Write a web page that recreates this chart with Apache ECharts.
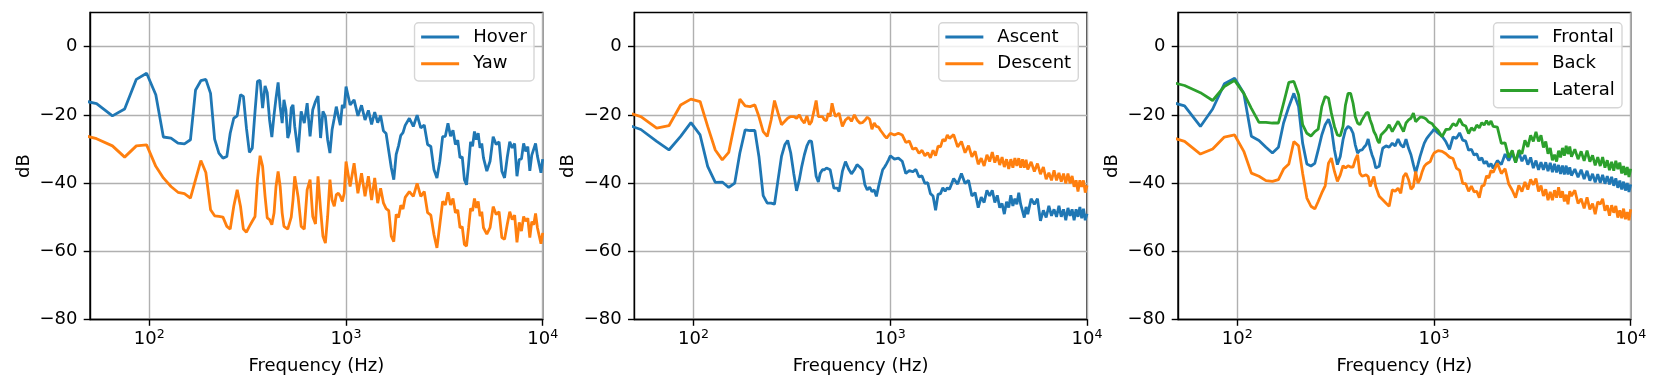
<!DOCTYPE html>
<html>
<head>
<meta charset="utf-8">
<script src="https://cdn.jsdelivr.net/npm/echarts@6/dist/echarts.min.js"></script>
<style>
  html, body { margin: 0; padding: 0; background: #fff; }
  #chart { width: 1661px; height: 391px; }
</style>
</head>
<body>
<div id="chart"></div>
<script>
/* frequency grid (Hz), shared by every curve */
var freqs = [43, 54, 65, 75, 86, 97, 108, 118, 129, 140,
  151, 162, 172, 183, 194, 205, 215, 226, 237, 248,
  258, 269, 280, 291, 301, 312, 323, 334, 345, 355,
  366, 377, 388, 398, 409, 420, 431, 441, 452, 463,
  474, 484, 495, 506, 517, 527, 538,
  549, 571, 592, 614, 635, 657, 678, 700,
  721, 743, 764, 786, 807, 829, 850, 872, 893, 915, 936, 958, 980, 1001,
  1050, 1100,
  1150, 1200, 1250, 1300, 1350, 1400, 1450, 1500, 1550, 1600, 1650, 1700, 1750, 1800, 1850, 1900, 1950, 2000,
  2100, 2200, 2300, 2400, 2500, 2600, 2700, 2800, 2900, 3000, 3100, 3200, 3300, 3400, 3500,
  3600, 3700, 3800, 3900, 4000, 4100, 4200, 4300, 4400, 4500, 4600, 4700, 4800, 4900, 5000,
  5200, 5400, 5600, 5800, 6000, 6200, 6400, 6600, 6800, 7000, 7200, 7400, 7600, 7800, 8000,
  8200, 8400, 8600, 8800, 9000, 9200, 9400, 9600, 9800, 10000];

/* panel 1 */
var hover = [-15.5, -16.7, -20.3, -18.3, -9.6, -7.8, -14.1, -26.5, -26.8, -28.3,
  -28.5, -27.3, -12.7, -10.0, -9.6, -13.7, -27.1, -31.2, -32.7, -32.2,
  -25.4, -21.0, -20.3, -14.1, -14.6, -23.9, -31.0, -29.8, -19.0, -10.2,
  -9.9, -18.0, -11.5, -13.5, -21.5, -26.5, -20.0, -15.1, -10.5, -17.6,
  -22.4, -15.6, -18.5, -26.8, -24.9, -18.0, -17.1,
  -23.4, -31.0, -19.0, -22.4, -16.6, -26.3, -18.5, -16.1,
  -14.5, -26.8, -19.0, -20.5, -27.3, -31.2, -24.4, -21.0, -17.6, -20.5, -23.0, -17.1, -18.0, -11.7,
  -17.1, -15.6,
  -20.3, -17.2, -21.5, -18.7, -22.8, -19.2, -22.3, -20.2, -24.7, -25.5, -30.6, -35.5, -39.0, -31.6, -29.1, -26.0, -25.2, -23.1,
  -21.0, -23.4, -20.1, -23.8, -23.0, -28.7, -29.3, -36.0, -38.5, -33.6, -26.4, -26.3, -22.5, -26.3, -24.5,
  -28.7, -27.4, -32.6, -32.3, -39.0, -40.5, -34.6, -27.9, -29.2, -24.9, -27.3, -25.4, -29.7, -28.4, -32.6,
  -36.5, -33.6, -26.4, -28.7, -27.9, -36.5, -38.5, -32.6, -27.9, -29.7, -28.4, -38.0, -33.1, -32.9, -28.4,
  -30.7, -29.3, -36.4, -31.8, -31.7, -28.4, -32.1, -31.8, -37.0, -33.0];
var yaw = [-25.5, -27.0, -29.1, -32.4, -29.1, -28.8, -35.1, -38.5, -41.0, -42.7,
  -43.1, -44.4, -39.0, -33.4, -36.9, -47.8, -49.6, -49.8, -50.0, -52.7,
  -53.5, -46.8, -42.0, -46.8, -53.5, -54.4, -52.7, -51.2, -49.8, -39.0,
  -32.0, -35.1, -43.9, -50.2, -50.7, -52.2, -48.8, -41.0, -36.6, -41.0,
  -48.8, -52.7, -53.2, -53.5, -53.0, -50.0, -45.0,
  -38.0, -44.0, -52.7, -53.5, -42.0, -39.0, -49.8, -52.0,
  -38.0, -47.8, -55.6, -57.6, -49.8, -39.0, -45.0, -46.8, -43.4, -43.0, -43.9, -45.4, -43.0, -33.7,
  -41.0, -34.2,
  -43.0, -37.1, -43.9, -38.0, -45.0, -38.5, -45.9, -41.5, -45.8, -47.5, -48.1, -55.6, -57.2, -49.2, -50.1, -46.5, -47.6, -44.2,
  -42.5, -43.9, -40.1, -43.9, -42.5, -48.7, -49.4, -55.1, -59.0, -52.2, -45.4, -46.4, -42.7, -46.4, -44.5,
  -48.7, -47.9, -53.1, -52.8, -58.0, -58.5, -53.1, -47.4, -48.2, -44.5, -47.3, -45.4, -49.7, -48.4, -53.1,
  -55.0, -53.1, -46.9, -49.2, -48.4, -56.0, -56.5, -52.2, -48.4, -50.7, -49.4, -57.4, -51.5, -54.1, -49.8,
  -51.2, -50.3, -56.0, -51.3, -52.2, -48.9, -53.1, -53.2, -57.8, -54.6];

/* panel 2 */
var ascent = [-22.3, -24.3, -27.8, -30.3, -26.3, -22.3, -25.9, -35.1, -39.8, -39.7,
  -41.3, -40.0, -31.2, -24.4, -24.6, -24.6, -32.2, -43.7, -45.9, -45.9,
  -46.2, -39.0, -32.2, -28.8, -27.5, -31.2, -37.1, -42.3, -39.0, -35.1,
  -31.7, -29.1, -27.6, -27.8, -32.7, -38.0, -39.7, -37.1, -36.1, -36.1,
  -35.6, -35.9, -36.1, -36.6, -41.5, -42.0, -41.5,
  -42.5, -36.6, -33.7, -35.9, -37.3, -36.1, -34.6, -35.3,
  -36.1, -40.5, -42.0, -41.2, -42.5, -42.0, -43.9, -41.0, -38.5, -36.1, -35.3, -34.3, -33.2, -32.0,
  -33.0, -32.7,
  -33.6, -37.2, -36.3, -36.7, -36.0, -38.2, -37.9, -40.1, -39.9, -43.1, -43.8, -48.0, -43.3, -43.1, -41.4, -42.4, -41.4, -41.8,
  -38.7, -40.3, -37.2, -40.1, -39.2, -43.8, -42.8, -47.2, -44.1, -45.7, -42.1, -43.8, -42.1, -45.7, -43.6,
  -47.2, -46.0, -49.1, -45.5, -47.2, -43.6, -46.7, -44.6, -46.2, -42.8, -46.2, -46.0, -50.1, -47.0, -49.1,
  -44.6, -46.2, -44.6, -51.1, -48.0, -50.1, -46.7, -49.6, -47.7, -49.9, -46.7, -49.9, -47.7, -50.9, -47.3,
  -49.6, -47.7, -50.9, -47.7, -49.9, -47.0, -50.3, -47.5, -50.9, -49.0];
var descent = [-18.8, -20.5, -23.9, -23.2, -17.1, -15.4, -16.1, -23.4, -30.3, -33.2,
  -31.0, -22.4, -15.4, -17.4, -17.6, -17.1, -20.5, -24.9, -26.3, -21.5,
  -15.8, -19.5, -22.9, -21.9, -21.0, -20.5, -20.5, -21.0, -20.0, -21.5,
  -22.4, -20.3, -22.9, -22.0, -19.0, -15.8, -20.5, -21.0, -20.5, -21.5,
  -21.7, -19.5, -20.5, -16.6, -19.0, -20.5, -21.0,
  -19.5, -23.4, -21.5, -20.7, -21.9, -20.0, -21.5, -22.4,
  -22.3, -21.6, -20.7, -21.3, -24.2, -22.4, -23.4, -23.6, -24.6, -25.4, -26.2, -26.8, -27.3, -25.4,
  -25.9, -25.4,
  -25.9, -28.1, -27.7, -30.1, -29.7, -31.3, -30.4, -32.0, -31.1, -32.6, -30.4, -32.0, -29.2, -29.4, -27.2, -27.7, -25.9, -26.9,
  -25.8, -29.4, -27.8, -31.1, -29.0, -32.3, -30.7, -34.5, -32.7, -35.0, -31.7, -33.7, -30.9, -34.0, -31.9,
  -34.7, -32.4, -35.3, -33.0, -35.9, -33.0, -35.5, -32.7, -35.0, -32.7, -35.5, -33.0, -35.5, -33.2, -36.0,
  -33.8, -36.6, -34.3, -37.4, -35.3, -38.9, -37.0, -39.2, -36.3, -39.2, -37.0, -39.6, -37.2, -40.1, -37.2,
  -40.1, -37.9, -41.1, -39.2, -42.5, -39.2, -41.1, -39.2, -42.8, -40.7];

/* panel 3 */
var frontal = [-15.8, -17.4, -23.4, -18.3, -10.9, -9.3, -13.7, -26.3, -27.5, -29.5,
  -31.2, -29.5, -22.4, -17.6, -13.7, -17.6, -28.3, -34.4, -35.0, -34.2,
  -30.3, -25.9, -22.9, -21.3, -23.9, -30.3, -34.6, -32.2, -27.3, -24.4,
  -23.4, -23.9, -25.4, -28.8, -31.2, -30.4, -30.3, -29.5, -28.8, -27.1,
  -29.8, -31.7, -33.2, -35.6, -35.9, -35.1, -32.2,
  -29.8, -29.1, -29.5, -28.3, -29.1, -27.1, -28.8, -29.5,
  -27.1, -29.8, -31.7, -34.6, -37.1, -34.6, -32.2, -30.1, -28.3, -27.1, -26.3, -25.6, -24.9, -24.2,
  -25.4, -26.3,
  -27.9, -30.1, -26.5, -26.9, -25.3, -27.4, -27.7, -30.4, -30.1, -31.8, -31.4, -33.3, -32.6, -34.3, -33.6, -35.2, -34.3, -35.7,
  -33.4, -34.6, -31.5, -33.4, -31.2, -33.9, -31.0, -33.6, -31.8, -34.6, -32.5, -35.6, -33.4, -36.1, -33.9,
  -36.1, -33.9, -36.5, -34.1, -36.8, -34.4, -36.9, -34.7, -37.3, -34.9, -37.5, -34.9, -37.5, -35.4, -37.8,
  -35.9, -38.3, -36.1, -38.8, -36.4, -39.3, -37.3, -39.8, -37.4, -39.9, -37.6, -40.2, -38.0, -40.4, -38.2,
  -40.8, -38.6, -41.4, -39.3, -41.9, -39.6, -42.2, -40.0, -42.6, -40.4];
var back = [-26.0, -27.8, -31.5, -30.0, -26.5, -25.9, -30.7, -37.1, -38.0, -39.3,
  -39.5, -39.0, -35.9, -34.4, -27.8, -29.1, -37.1, -44.4, -46.8, -47.6,
  -45.4, -42.9, -40.8, -34.2, -32.7, -36.6, -39.5, -37.6, -34.9, -35.6,
  -34.9, -35.3, -35.3, -33.2, -31.7, -37.1, -38.0, -37.6, -37.6, -38.1,
  -41.0, -39.5, -38.1, -41.0, -41.5, -43.9, -43.4,
  -44.9, -45.9, -46.8, -42.0, -42.4, -41.5, -43.0, -38.1,
  -37.1, -39.0, -41.8, -41.0, -36.6, -40.0, -38.8, -36.6, -35.1, -34.4, -34.0, -33.7, -32.2, -31.2,
  -30.5, -30.7,
  -31.4, -32.4, -32.8, -35.6, -36.3, -40.1, -40.2, -42.4, -40.9, -42.6, -42.4, -44.3, -40.9, -40.6, -37.9, -38.5, -36.3, -36.9,
  -34.2, -37.2, -35.8, -40.3, -42.1, -44.3, -40.7, -42.5, -39.7, -41.9, -38.9, -40.5, -38.7, -42.5, -40.7,
  -43.8, -41.8, -45.0, -42.6, -45.0, -42.1, -44.3, -41.2, -44.3, -42.4, -45.4, -43.4, -46.2, -42.4, -43.8,
  -42.1, -46.0, -44.6, -47.4, -44.2, -47.7, -46.0, -49.1, -45.5, -46.2, -44.6, -48.1, -46.5, -49.6, -46.5,
  -48.7, -46.7, -50.1, -48.0, -50.3, -47.5, -50.6, -48.5, -50.9, -47.7];
var lateral = [-10.0, -11.4, -13.5, -15.8, -11.7, -9.9, -13.7, -18.1, -22.2, -22.2,
  -22.4, -22.4, -16.6, -10.5, -10.2, -14.1, -22.9, -25.4, -26.2, -24.9,
  -24.2, -17.6, -14.6, -15.1, -19.5, -23.4, -25.9, -26.2, -23.4, -17.1,
  -13.7, -13.7, -16.6, -20.5, -22.4, -22.9, -21.5, -21.9, -19.5, -19.3,
  -21.5, -22.9, -24.9, -25.9, -27.5, -28.3, -25.9,
  -25.4, -24.4, -22.9, -24.9, -23.4, -21.9, -23.4, -24.9,
  -22.4, -21.5, -21.0, -19.5, -22.0, -21.3, -20.7, -20.7, -20.9, -21.3, -22.0, -22.3, -22.6, -23.4,
  -24.6, -26.4,
  -24.3, -24.2, -22.6, -23.2, -21.2, -22.9, -23.3, -25.5, -23.8, -24.6, -23.0, -23.8, -22.3, -23.0, -21.7, -22.9, -21.8, -23.4,
  -23.6, -28.4, -28.2, -32.5, -30.4, -34.0, -30.4, -31.4, -27.5, -29.4, -26.0, -27.8, -25.0, -27.8, -26.0,
  -29.6, -27.8, -31.4, -29.7, -33.3, -31.7, -33.7, -30.5, -32.5, -29.7, -32.0, -29.1, -31.5, -29.3, -32.3,
  -30.1, -33.0, -30.7, -33.5, -30.5, -33.7, -31.9, -34.8, -32.4, -35.0, -32.4, -35.5, -33.3, -36.2, -33.8,
  -36.4, -33.5, -35.9, -34.0, -37.2, -35.0, -37.6, -35.3, -38.2, -35.8];

var xTicks = [100, 1000, 10000];
var yTicks = [-80, -60, -40, -20, 0];
var colors = ['#1f77b4', '#ff7f0e', '#2ca02c'];

var panels = [
    {left: 90,    legendRight: 1127, names: ['Hover', 'Yaw'], values: [hover, yaw]},
    {left: 634.3, legendRight: 582.7, names: ['Ascent', 'Descent'], values: [ascent, descent]},
    {left: 1178,  legendRight: 39,   names: ['Frontal', 'Back', 'Lateral'], values: [frontal, back, lateral]}
];

function pairs(vals) {
    return freqs.map(function (f, i) { return [f, vals[i]]; });
}

function minusLabel(v) {
    return v < 0 ? '\u2212' + (-v) : String(v);
}

function powLabel(v) {
    var e = Math.round(Math.log(v) / Math.LN10);
    return '{b|10}{s|' + e + '}';
}

var grids = [], xAxes = [], yAxes = [], legends = [], series = [];

panels.forEach(function (p, i) {
    grids.push({
        left: p.left, top: 12.5, width: 452.7, height: 307,
        show: true, borderColor: '#000', borderWidth: 1.4
    });
    xAxes.push({
        type: 'log', logBase: 10, gridIndex: i, min: 50, max: 10000,
        name: 'Frequency (Hz)', nameLocation: 'middle', nameGap: 38,
        nameTextStyle: {fontSize: 18, color: '#000'},
        axisLine: {onZero: false, lineStyle: {color: '#000', width: 1.4}},
        axisTick: {length: 6.3, customValues: xTicks, lineStyle: {color: '#000', width: 1.4}},
        axisLabel: {
            customValues: xTicks, margin: 9, color: '#000', formatter: powLabel,
            rich: {
                b: {fontSize: 18, lineHeight: 20, verticalAlign: 'bottom', color: '#000'},
                s: {fontSize: 12.6, verticalAlign: 'top', color: '#000'}
            }
        },
        splitLine: {show: true, lineStyle: {color: '#b0b0b0', width: 1.4}},
        minorTick: {show: false}
    });
    yAxes.push({
        type: 'value', gridIndex: i, min: -80, max: 10, interval: 20,
        name: 'dB', nameLocation: 'middle', nameGap: 57,
        nameTextStyle: {fontSize: 18, color: '#000'},
        axisLine: {show: true, onZero: false, lineStyle: {color: '#000', width: 1.4}},
        axisTick: {show: true, length: 6.3, customValues: yTicks, lineStyle: {color: '#000', width: 1.4}},
        axisLabel: {customValues: yTicks, margin: 12.6, fontSize: 18, color: '#000', formatter: minusLabel},
        splitLine: {show: true, lineStyle: {color: '#b0b0b0', width: 1.4}}
    });
    legends.push({
        orient: 'vertical', right: p.legendRight, top: 22.7,
        data: p.names, icon: 'rect', itemWidth: 38, itemHeight: 3, itemGap: 8.7,
        padding: [5.3, 7.2, 8.3, 6.6],
        borderColor: '#d6d6d6', borderWidth: 1.4, borderRadius: 4,
        backgroundColor: 'rgba(255,255,255,0.8)',
        textStyle: {fontSize: 18, color: '#000', lineHeight: 18, padding: [0, 0, 0, 9]},
        selectedMode: false
    });
    p.values.forEach(function (vals, k) {
        series.push({
            name: p.names[k], type: 'line', xAxisIndex: i, yAxisIndex: i,
            data: pairs(vals), symbol: 'none', showSymbol: false,
            lineStyle: {width: 2.8, color: colors[k]},
            itemStyle: {color: colors[k]},
            emphasis: {disabled: true}
        });
    });
});

var option = {
    animation: false,
    textStyle: {fontFamily: 'DejaVu Sans'},
    grid: grids,
    xAxis: xAxes,
    yAxis: yAxes,
    legend: legends,
    series: series
};

var chart = echarts.init(document.getElementById('chart'));
chart.setOption(option);
</script>
</body>
</html>
